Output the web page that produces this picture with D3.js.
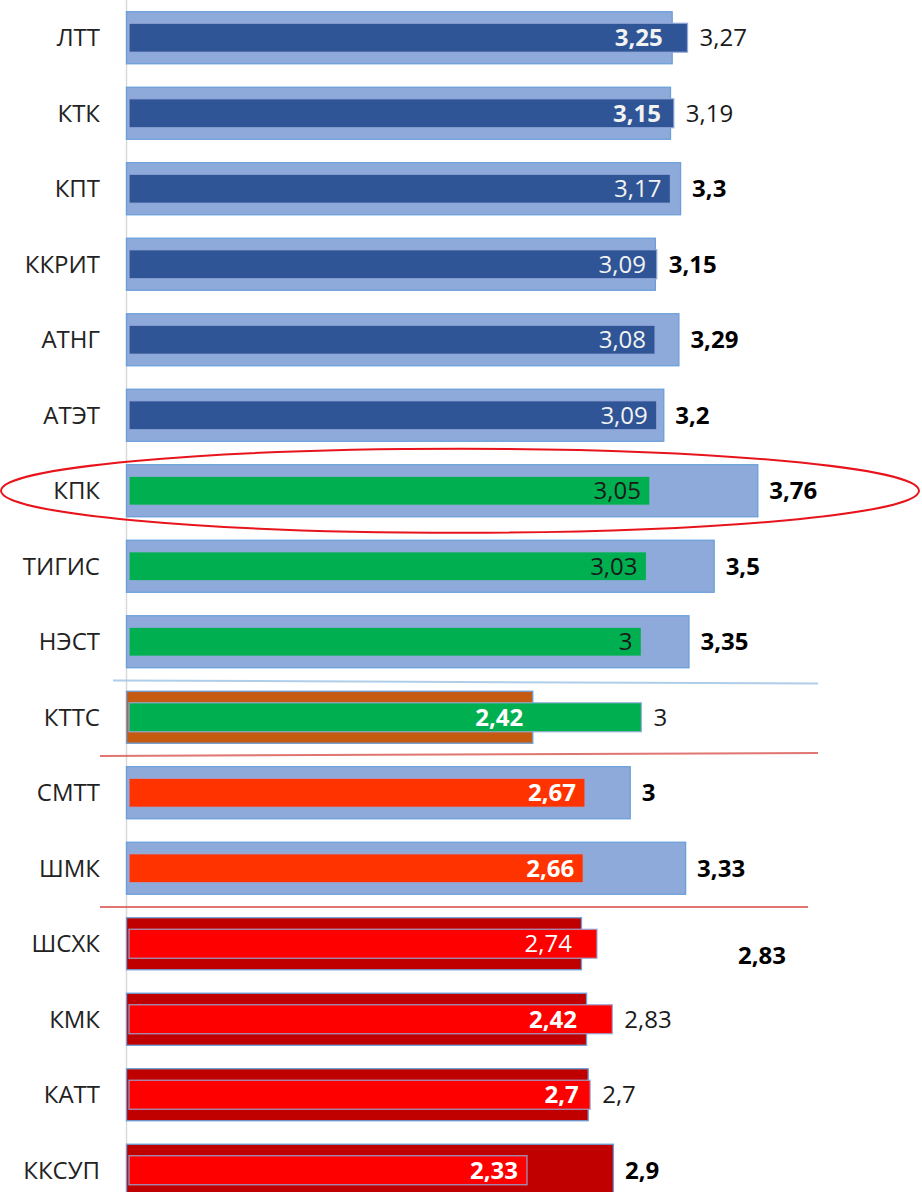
<!DOCTYPE html>
<html>
<head>
<meta charset="utf-8">
<script src="https://cdn.jsdelivr.net/npm/d3@7"></script>
<style>
  body { margin: 0; background: #fff; }
  text { font-family: "Open Sans", sans-serif; }
</style>
</head>
<body>
<svg id="chart" width="922" height="1192"></svg>
<script>
// rows, top to bottom
const categories = ["ЛТТ", "КТК", "КПТ", "ККРИТ", "АТНГ", "АТЭТ", "КПК", "ТИГИС", "НЭСТ",
                    "КТТС", "СМТТ", "ШМК", "ШСХК", "КМК", "КАТТ", "ККСУП"];
// wide (back) bar lengths
const outerValues = [3.25, 3.24, 3.3, 3.15, 3.29, 3.2, 3.76, 3.5, 3.35, 2.42, 3, 3.33, 2.71, 2.74, 2.75, 2.9];
// narrow (front) bar lengths
const innerValues = [3.27, 3.19, 3.17, 3.09, 3.08, 3.09, 3.05, 3.03, 3, 3, 2.67, 2.66, 2.74, 2.83, 2.7, 2.33];
// labels as printed on the chart
const insideLabels = ["3,25", "3,15", "3,17", "3,09", "3,08", "3,09", "3,05", "3,03", "3",
                      "2,42", "2,67", "2,66", "2,74", "2,42", "2,7", "2,33"];
const outsideLabels = ["3,27", "3,19", "3,3", "3,15", "3,29", "3,2", "3,76", "3,5", "3,35",
                       "3", "3", "3,33", "2,83", "2,83", "2,7", "2,9"];
// which block each row belongs to
const groups = ["top", "top", "top", "top", "top", "top", "mid", "mid", "mid",
                "split", "warn", "warn", "low", "low", "low", "low"];
const highlighted = "КПК";

// styles
const palette = {            // [back bar, front bar, inside label]
  top:   ["#8eaadb", "#2f5597", "#f2f2f2"],
  mid:   ["#8eaadb", "#00b050", "#1a1a1a"],
  split: ["#c55a11", "#00b050", "#ffffff"],
  warn:  ["#8eaadb", "#ff3300", "#ffffff"],
  low:   ["#c00000", "#ff0000", "#ffffff"]
};
const boldInside = new Set([0, 1, 9, 10, 11, 13, 14, 15]);
const boldOutside = new Set([2, 3, 4, 5, 6, 7, 8, 10, 11, 12, 15]);
const labelNudge = {12: [129, 12]}; // ШСХК label sits far off in the original

const svg = d3.select("#chart");

const y = d3.scaleBand()
  .domain(categories)
  .range([0, 1208])
  .paddingInner(0.311)
  .paddingOuter(0.1555);
const x = d3.scaleLinear().domain([0, 4]).range([126, 797.6]);   // back bars
const x2 = d3.scaleLinear().domain([0, 4]).range([129, 812.2]);  // front bars (own axis)

const rows = categories.map((c, i) => ({
  c, i, g: groups[i], o: outerValues[i], n: innerValues[i],
  inL: insideLabels[i], outL: outsideLabels[i]
}));

// axis line
svg.append("line")
  .attr("x1", 126.5).attr("x2", 126.5).attr("y1", 0).attr("y2", 1192)
  .attr("stroke", "#d9d9d9").attr("stroke-width", 1.5);

const bh = y.bandwidth();
const ih = 29;

svg.selectAll(".back")
  .data(rows).enter().append("rect")
  .attr("class", "back")
  .attr("x", x(0) + 0.5)
  .attr("y", d => y(d.c))
  .attr("width", d => x(d.o) - x(0))
  .attr("height", bh)
  .attr("fill", d => palette[d.g][0])
  .attr("stroke", "#6a9fd8").attr("stroke-width", 1.3);

svg.selectAll(".front")
  .data(rows).enter().append("rect")
  .attr("class", "front")
  .attr("x", x2(0))
  .attr("y", d => y(d.c) + (bh - ih) / 2)
  .attr("width", d => x2(d.n) - x2(0))
  .attr("height", ih)
  .attr("fill", d => palette[d.g][1])
  .attr("stroke", "rgba(150,170,220,0.85)").attr("stroke-width", 1.3);

// category labels
svg.selectAll(".cat")
  .data(rows).enter().append("text")
  .attr("class", "cat")
  .attr("x", 100)
  .attr("y", d => y(d.c) + bh / 2)
  .attr("dy", "0.36em")
  .attr("text-anchor", "end")
  .attr("font-size", 24)
  .attr("fill", "#222")
  .text(d => d.c);

// value inside the bars
svg.selectAll(".inlab")
  .data(rows).enter().append("text")
  .attr("class", "inlab")
  .attr("x", d => Math.min(x(d.o), x2(d.n)) - 9)
  .attr("y", d => y(d.c) + bh / 2)
  .attr("dy", "0.36em")
  .attr("text-anchor", "end")
  .attr("font-size", 24)
  .attr("font-weight", d => boldInside.has(d.i) ? 700 : 400)
  .attr("fill", d => palette[d.g][2])
  .text(d => d.inL);

// value right of the bars
svg.selectAll(".outlab")
  .data(rows).enter().append("text")
  .attr("class", "outlab")
  .attr("x", d => Math.max(x(d.o), x2(d.n)) + 12 + (labelNudge[d.i] ? labelNudge[d.i][0] : 0))
  .attr("y", d => y(d.c) + bh / 2 + (labelNudge[d.i] ? labelNudge[d.i][1] : 0))
  .attr("dy", "0.36em")
  .attr("font-size", 24)
  .attr("font-weight", d => boldOutside.has(d.i) ? 700 : 400)
  .attr("fill", d => boldOutside.has(d.i) ? "#000" : "#1a1a1a")
  .text(d => d.outL);

// block separators, half a gap above a row
const gapAbove = c => y(c) - y.step() * y.paddingInner() / 2;
const seps = [
  {c: "КТТС", x1: 113, x2: 818, col: "#9dc3e6", d: 3},
  {c: "СМТТ", x1: 100, x2: 818, col: "#d9534f", d: -3},
  {c: "ШСХК", x1: 100, x2: 808, col: "#d9534f", d: 0}
];
svg.selectAll(".sep")
  .data(seps).enter().append("line")
  .attr("class", "sep")
  .attr("x1", d => d.x1).attr("x2", d => d.x2)
  .attr("y1", d => gapAbove(d.c) + 1)
  .attr("y2", d => gapAbove(d.c) + 1 + d.d)
  .attr("stroke", d => d.col).attr("stroke-width", 2).attr("opacity", 0.8);

// highlight ring
svg.append("ellipse")
  .attr("cx", 460)
  .attr("cy", y(highlighted) + bh / 2)
  .attr("rx", 459).attr("ry", 42)
  .attr("fill", "none")
  .attr("stroke", "#e8141c").attr("stroke-width", 2);
</script>
</body>
</html>
